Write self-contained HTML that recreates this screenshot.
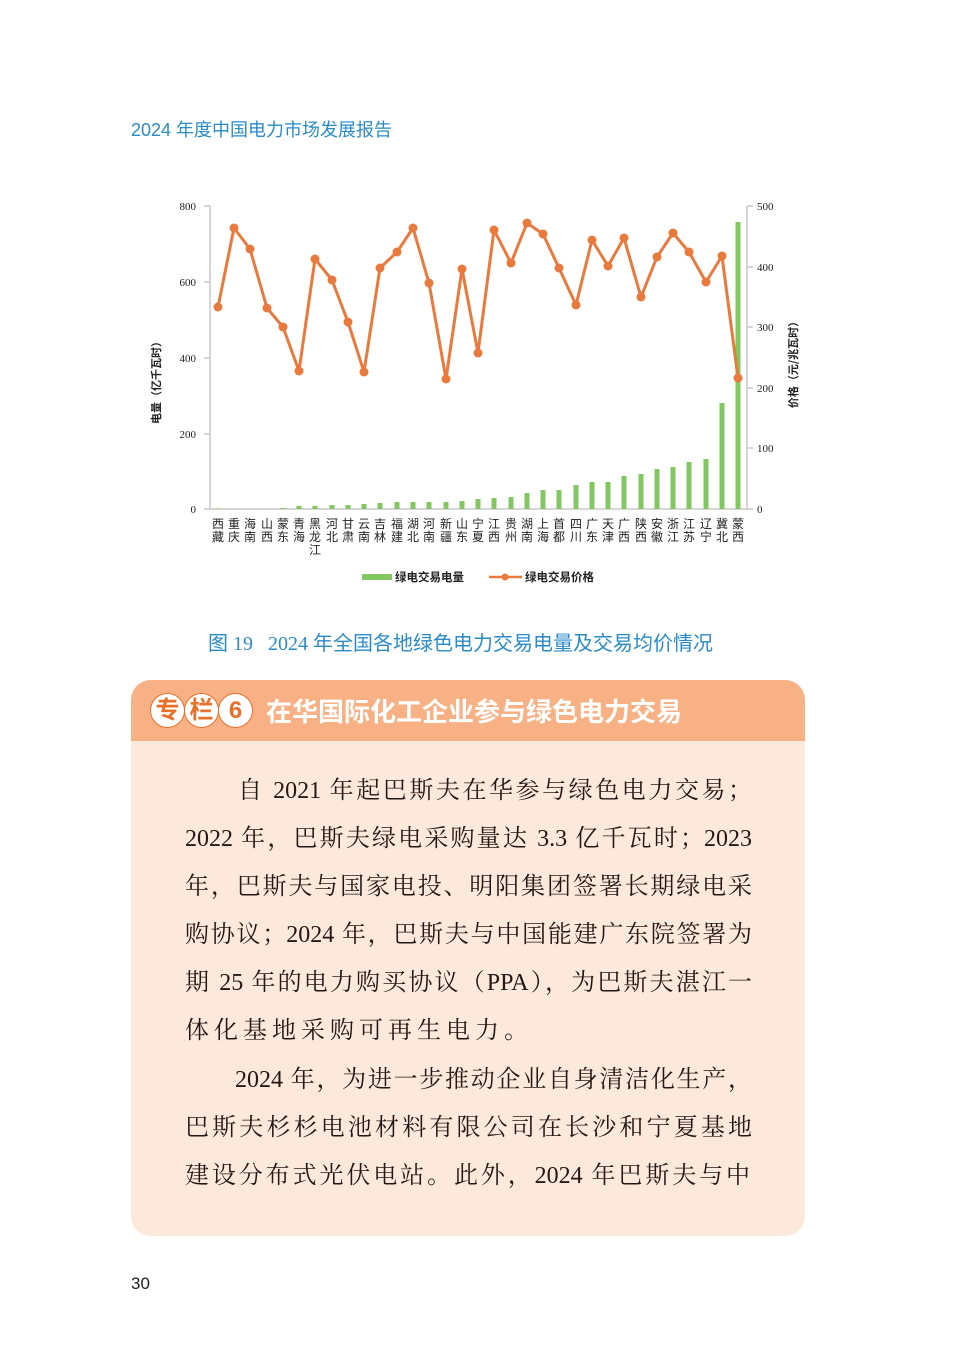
<!DOCTYPE html>
<html><head><meta charset="utf-8">
<style>
body{margin:0;background:#fff;width:971px;height:1365px;position:relative;overflow:hidden;font-family:"Liberation Sans","Noto Sans CJK SC",sans-serif}
.abs{position:absolute}
.ln{position:absolute;left:185px;width:567px;font-family:"Liberation Serif","Noto Serif CJK SC",serif;font-size:24px;color:#231815;text-align:justify;text-align-last:justify;white-space:nowrap;line-height:30px}
.circ{display:inline-block;width:33px;height:33px;border-radius:50%;background:#fff;border:1.5px solid #e8702a;color:#e8702a;text-align:center;line-height:33px;font-size:24px;font-weight:bold;margin-right:-1px;vertical-align:middle}
</style></head><body>
<div class="abs" style="left:131px;top:116px;font-size:18px;color:#2a8bc8">2024 年度中国电力市场发展报告</div>

<svg class="abs" style="left:0;top:0" width="971" height="600" font-family="Liberation Serif, Noto Serif CJK SC, serif">
<g stroke="#c8c8c8" stroke-width="1.5" fill="none">
<line x1="210" y1="206" x2="210" y2="509"/><line x1="747" y1="206" x2="747" y2="509"/>
<line x1="204" y1="509" x2="753" y2="509"/>
<line x1="204" y1="206" x2="210" y2="206"/><line x1="204" y1="282" x2="210" y2="282"/><line x1="204" y1="358" x2="210" y2="358"/><line x1="204" y1="434" x2="210" y2="434"/>
<line x1="747" y1="206" x2="753" y2="206"/><line x1="747" y1="267" x2="753" y2="267"/><line x1="747" y1="327" x2="753" y2="327"/><line x1="747" y1="388" x2="753" y2="388"/><line x1="747" y1="448" x2="753" y2="448"/>
</g>
<g font-size="11" fill="#222" text-anchor="end">
<text x="196" y="210">800</text><text x="196" y="286">600</text><text x="196" y="362">400</text><text x="196" y="438">200</text><text x="196" y="513">0</text>
</g>
<g font-size="11" fill="#222">
<text x="757" y="210">500</text><text x="757" y="271">400</text><text x="757" y="331">300</text><text x="757" y="392">200</text><text x="757" y="452">100</text><text x="757" y="513">0</text>
</g>
<text transform="translate(160,380) rotate(-90)" font-size="11" fill="#222" text-anchor="middle" font-family="Noto Sans CJK SC,sans-serif" font-weight="bold">电量（亿千瓦时）</text>
<text transform="translate(797,362) rotate(-90)" font-size="11" fill="#222" text-anchor="middle" font-family="Noto Sans CJK SC,sans-serif" font-weight="bold">价格（元/兆瓦时）</text>
<g fill="#82c75f">
<rect x="215.5" y="508.5" width="5" height="0.5"/>
<rect x="280.5" y="508" width="5" height="1"/>
<rect x="296.5" y="506" width="5" height="3"/>
<rect x="312.5" y="506" width="5" height="3"/>
<rect x="329.5" y="505" width="5" height="4"/>
<rect x="345.5" y="505" width="5" height="4"/>
<rect x="361.5" y="504" width="5" height="5"/>
<rect x="377.5" y="503" width="5" height="6"/>
<rect x="394.5" y="502" width="5" height="7"/>
<rect x="410.5" y="502" width="5" height="7"/>
<rect x="426.5" y="502" width="5" height="7"/>
<rect x="443.5" y="502" width="5" height="7"/>
<rect x="459.5" y="501" width="5" height="8"/>
<rect x="475.5" y="499" width="5" height="10"/>
<rect x="491.5" y="498" width="5" height="11"/>
<rect x="508.5" y="497" width="5" height="12"/>
<rect x="524.5" y="493" width="5" height="16"/>
<rect x="540.5" y="490" width="5" height="19"/>
<rect x="556.5" y="490" width="5" height="19"/>
<rect x="573.5" y="485" width="5" height="24"/>
<rect x="589.5" y="482" width="5" height="27"/>
<rect x="605.5" y="482" width="5" height="27"/>
<rect x="621.5" y="476" width="5" height="33"/>
<rect x="638.5" y="474" width="5" height="35"/>
<rect x="654.5" y="469" width="5" height="40"/>
<rect x="670.5" y="467" width="5" height="42"/>
<rect x="686.5" y="462" width="5" height="47"/>
<rect x="703.5" y="459" width="5" height="50"/>
<rect x="719.5" y="403" width="5" height="106"/>
<rect x="735.5" y="222" width="5" height="287"/>
</g>
<polyline fill="none" stroke="#e87a3e" stroke-width="3" stroke-linejoin="round" points="218,307 234,228 250,249 267,308 283,327 299,371 315,259 332,280 348,322 364,372 380,268 397,252 413,228 429,283 446,379 462,269 478,353 494,230 511,263 527,223 543,234 559,268 576,305 592,240 608,266 624,238 641,297 657,257 673,233 689,252 706,282 722,256 738,378"/>
<g fill="#e87a3e">
<circle cx="218" cy="307" r="4.5"/><circle cx="234" cy="228" r="4.5"/><circle cx="250" cy="249" r="4.5"/><circle cx="267" cy="308" r="4.5"/><circle cx="283" cy="327" r="4.5"/><circle cx="299" cy="371" r="4.5"/><circle cx="315" cy="259" r="4.5"/><circle cx="332" cy="280" r="4.5"/><circle cx="348" cy="322" r="4.5"/><circle cx="364" cy="372" r="4.5"/><circle cx="380" cy="268" r="4.5"/><circle cx="397" cy="252" r="4.5"/><circle cx="413" cy="228" r="4.5"/><circle cx="429" cy="283" r="4.5"/><circle cx="446" cy="379" r="4.5"/><circle cx="462" cy="269" r="4.5"/><circle cx="478" cy="353" r="4.5"/><circle cx="494" cy="230" r="4.5"/><circle cx="511" cy="263" r="4.5"/><circle cx="527" cy="223" r="4.5"/><circle cx="543" cy="234" r="4.5"/><circle cx="559" cy="268" r="4.5"/><circle cx="576" cy="305" r="4.5"/><circle cx="592" cy="240" r="4.5"/><circle cx="608" cy="266" r="4.5"/><circle cx="624" cy="238" r="4.5"/><circle cx="641" cy="297" r="4.5"/><circle cx="657" cy="257" r="4.5"/><circle cx="673" cy="233" r="4.5"/><circle cx="689" cy="252" r="4.5"/><circle cx="706" cy="282" r="4.5"/><circle cx="722" cy="256" r="4.5"/><circle cx="738" cy="378" r="4.5"/>
</g>
<g font-size="12" fill="#222" text-anchor="middle" font-family="Noto Sans CJK SC,sans-serif">
<text x="218" y="528">西</text><text x="218" y="541">藏</text>
<text x="234" y="528">重</text><text x="234" y="541">庆</text>
<text x="250" y="528">海</text><text x="250" y="541">南</text>
<text x="267" y="528">山</text><text x="267" y="541">西</text>
<text x="283" y="528">蒙</text><text x="283" y="541">东</text>
<text x="299" y="528">青</text><text x="299" y="541">海</text>
<text x="315" y="528">黑</text><text x="315" y="541">龙</text><text x="315" y="554">江</text>
<text x="332" y="528">河</text><text x="332" y="541">北</text>
<text x="348" y="528">甘</text><text x="348" y="541">肃</text>
<text x="364" y="528">云</text><text x="364" y="541">南</text>
<text x="380" y="528">吉</text><text x="380" y="541">林</text>
<text x="397" y="528">福</text><text x="397" y="541">建</text>
<text x="413" y="528">湖</text><text x="413" y="541">北</text>
<text x="429" y="528">河</text><text x="429" y="541">南</text>
<text x="446" y="528">新</text><text x="446" y="541">疆</text>
<text x="462" y="528">山</text><text x="462" y="541">东</text>
<text x="478" y="528">宁</text><text x="478" y="541">夏</text>
<text x="494" y="528">江</text><text x="494" y="541">西</text>
<text x="511" y="528">贵</text><text x="511" y="541">州</text>
<text x="527" y="528">湖</text><text x="527" y="541">南</text>
<text x="543" y="528">上</text><text x="543" y="541">海</text>
<text x="559" y="528">首</text><text x="559" y="541">都</text>
<text x="576" y="528">四</text><text x="576" y="541">川</text>
<text x="592" y="528">广</text><text x="592" y="541">东</text>
<text x="608" y="528">天</text><text x="608" y="541">津</text>
<text x="624" y="528">广</text><text x="624" y="541">西</text>
<text x="641" y="528">陕</text><text x="641" y="541">西</text>
<text x="657" y="528">安</text><text x="657" y="541">徽</text>
<text x="673" y="528">浙</text><text x="673" y="541">江</text>
<text x="689" y="528">江</text><text x="689" y="541">苏</text>
<text x="706" y="528">辽</text><text x="706" y="541">宁</text>
<text x="722" y="528">冀</text><text x="722" y="541">北</text>
<text x="738" y="528">蒙</text><text x="738" y="541">西</text>
</g>
<rect x="362" y="574" width="30" height="6" fill="#82c75f"/>
<text x="395" y="581" font-size="11.5" fill="#222" font-family="Noto Sans CJK SC,sans-serif" font-weight="bold">绿电交易电量</text>
<line x1="489" y1="577" x2="522" y2="577" stroke="#e87a3e" stroke-width="2.5"/>
<circle cx="505" cy="577" r="3.5" fill="#e87a3e"/>
<text x="525" y="581" font-size="11.5" fill="#222" font-family="Noto Sans CJK SC,sans-serif" font-weight="bold">绿电交易价格</text>
</svg>

<div class="abs" style="left:208px;top:627px;font-size:20px;color:#2a8bc8;font-family:'Liberation Serif','Noto Sans CJK SC',sans-serif;white-space:nowrap">图 19&nbsp;&nbsp;&nbsp;2024 年全国各地绿色电力交易电量及交易均价情况</div>

<div class="abs" style="left:131px;top:680px;width:674px;height:556px;background:#fde9dc;border-radius:20px;overflow:hidden">
<div style="height:61px;background:#f7b184;padding-left:19px;display:flex;align-items:center">
<span class="circ">专</span><span class="circ">栏</span><span class="circ">6</span>
<span style="color:#fff;font-size:26px;font-weight:bold;margin-left:14px">在华国际化工企业参与绿色电力交易</span>
</div>
</div>

<div class="ln" style="top:776px;left:238px;width:514px">自 2021 年起巴斯夫在华参与绿色电力交易；</div>
<div class="ln" style="top:824px">2022 年，巴斯夫绿电采购量达 3.3 亿千瓦时；2023</div>
<div class="ln" style="top:872px">年，巴斯夫与国家电投、明阳集团签署长期绿电采</div>
<div class="ln" style="top:920px">购协议；2024 年，巴斯夫与中国能建广东院签署为</div>
<div class="ln" style="top:968px">期 25 年的电力购买协议（PPA），为巴斯夫湛江一</div>
<div class="ln" style="top:1016px;text-align-last:left;letter-spacing:5px">体化基地采购可再生电力。</div>
<div class="ln" style="top:1065px;left:235px;width:517px">2024 年，为进一步推动企业自身清洁化生产，</div>
<div class="ln" style="top:1113px">巴斯夫杉杉电池材料有限公司在长沙和宁夏基地</div>
<div class="ln" style="top:1161px;width:565px">建设分布式光伏电站。此外，2024 年巴斯夫与中</div>

<div class="abs" style="left:131px;top:1274px;font-size:17px;color:#222">30</div>
</body></html>
